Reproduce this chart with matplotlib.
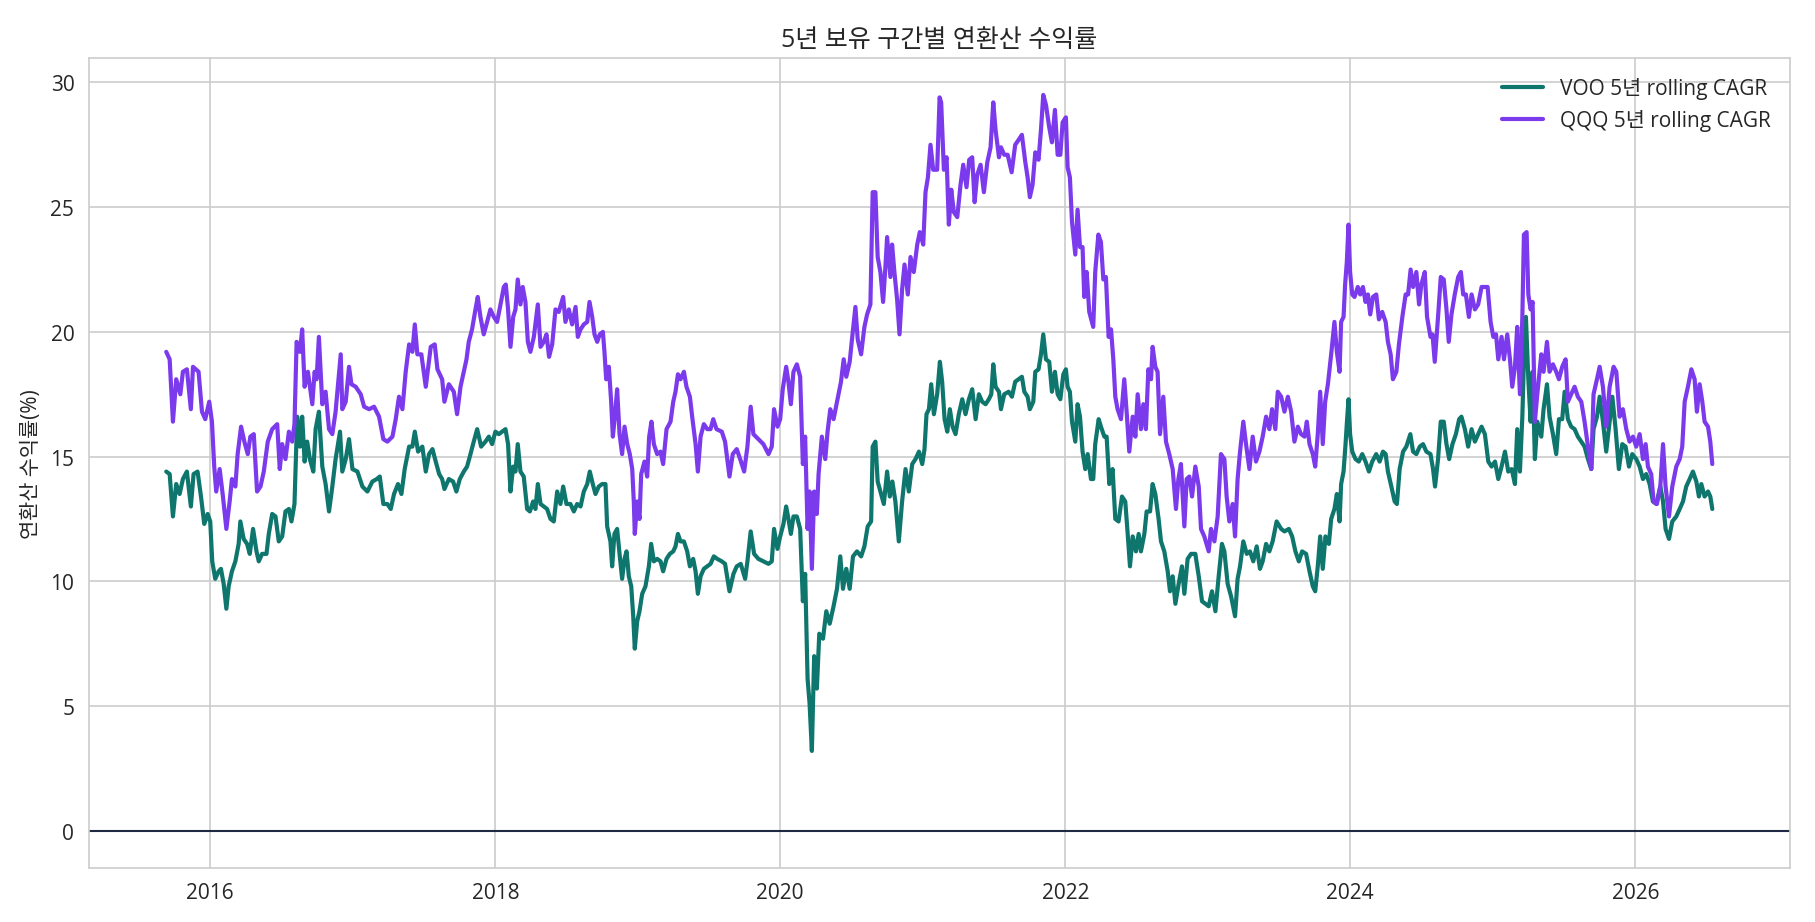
import datetime as dt

import matplotlib
matplotlib.use("Agg")
import matplotlib.pyplot as plt
import matplotlib.dates as mdates
import seaborn as sns

# %% data (decimal year, 5y rolling CAGR in %)
voo_t = [
    2015.691, 2015.715, 2015.738, 2015.761, 2015.785, 2015.808, 2015.836, 2015.864, 2015.883, 2015.911, 2015.935, 2015.958, 2015.982, 2016.000, 2016.014, 2016.035, 2016.059, 2016.075, 2016.094, 2016.113, 2016.129, 2016.152, 2016.176, 2016.199, 2016.211, 2016.234, 2016.258, 2016.277, 2016.300, 2016.324, 2016.340, 2016.363, 2016.394, 2016.410, 2016.434, 2016.457, 2016.480, 2016.504, 2016.527, 2016.551, 2016.569, 2016.590, 2016.609, 2016.628, 2016.644, 2016.661, 2016.679, 2016.698, 2016.722, 2016.738, 2016.761, 2016.785, 2016.808, 2016.832, 2016.855, 2016.878, 2016.909, 2016.925, 2016.949, 2016.972, 2016.996, 2017.031, 2017.066, 2017.101, 2017.136, 2017.167, 2017.188, 2017.213, 2017.241, 2017.265, 2017.288, 2017.316, 2017.340, 2017.363, 2017.394, 2017.417, 2017.434, 2017.457, 2017.487, 2017.511, 2017.534, 2017.558, 2017.581, 2017.605,
    2017.626, 2017.642, 2017.673, 2017.703, 2017.726, 2017.750, 2017.778, 2017.801, 2017.825, 2017.848, 2017.872, 2017.900, 2017.930, 2017.954, 2017.977, 2018.000, 2018.024, 2018.047, 2018.071, 2018.089, 2018.106, 2018.125, 2018.141, 2018.157, 2018.176, 2018.199, 2018.223, 2018.242, 2018.265, 2018.281, 2018.298, 2018.317, 2018.340, 2018.363, 2018.387, 2018.410, 2018.434, 2018.457, 2018.476, 2018.499, 2018.527, 2018.551, 2018.574, 2018.598, 2018.621, 2018.645, 2018.663, 2018.684, 2018.703, 2018.726, 2018.750, 2018.773, 2018.785, 2018.808, 2018.820, 2018.836, 2018.855, 2018.872, 2018.890, 2018.907, 2018.921, 2018.937, 2018.954, 2018.968, 2018.979, 2018.996, 2019.012, 2019.031, 2019.054, 2019.078, 2019.094, 2019.113, 2019.136, 2019.160, 2019.178, 2019.202, 2019.225, 2019.249, 2019.265, 2019.282, 2019.300, 2019.324, 2019.347, 2019.366, 2019.389, 2019.406, 2019.422, 2019.441, 2019.464, 2019.488, 2019.511, 2019.534, 2019.558,
    2019.590, 2019.613, 2019.644, 2019.672, 2019.695, 2019.723, 2019.754, 2019.770, 2019.793, 2019.817, 2019.847, 2019.882, 2019.918, 2019.941, 2019.957, 2019.981, 2020.000, 2020.023, 2020.042, 2020.058, 2020.075, 2020.093, 2020.117, 2020.140, 2020.159, 2020.175, 2020.192, 2020.206, 2020.222, 2020.238, 2020.257, 2020.274, 2020.300, 2020.323, 2020.347, 2020.374, 2020.398, 2020.421, 2020.440, 2020.463, 2020.487, 2020.510, 2020.538, 2020.567, 2020.590, 2020.613, 2020.637, 2020.648, 2020.667, 2020.683, 2020.702, 2020.726, 2020.749, 2020.768, 2020.786, 2020.807, 2020.831, 2020.854, 2020.878, 2020.901, 2020.925, 2020.948, 2020.972, 2020.995, 2021.011, 2021.025, 2021.042, 2021.058, 2021.077, 2021.100, 2021.119, 2021.135, 2021.152, 2021.171, 2021.189, 2021.208, 2021.229, 2021.252, 2021.276, 2021.299, 2021.323, 2021.346, 2021.370, 2021.393, 2021.416, 2021.440, 2021.463, 2021.480, 2021.494, 2021.510, 2021.534,
    2021.548, 2021.571, 2021.602, 2021.625, 2021.648, 2021.672, 2021.695, 2021.712, 2021.735, 2021.751, 2021.775, 2021.789, 2021.812, 2021.829, 2021.845, 2021.864, 2021.887, 2021.906, 2021.927, 2021.946, 2021.965, 2021.986, 2022.004, 2022.016, 2022.032, 2022.047, 2022.070, 2022.086, 2022.103, 2022.121, 2022.140, 2022.157, 2022.180, 2022.196, 2022.210, 2022.234, 2022.250, 2022.274, 2022.290, 2022.309, 2022.332, 2022.351, 2022.374, 2022.398, 2022.421, 2022.438, 2022.454, 2022.473, 2022.496, 2022.515, 2022.531, 2022.555, 2022.571, 2022.595, 2022.613, 2022.632, 2022.655, 2022.672, 2022.695, 2022.719, 2022.735, 2022.754, 2022.773, 2022.796, 2022.819, 2022.836, 2022.859, 2022.883, 2022.913, 2022.937, 2022.960, 2022.983, 2023.007, 2023.030, 2023.054, 2023.077, 2023.100, 2023.117, 2023.140, 2023.164, 2023.192, 2023.210, 2023.227, 2023.250, 2023.274, 2023.297, 2023.320, 2023.344, 2023.367, 2023.386, 2023.410, 2023.433, 2023.456, 2023.484,
    2023.516, 2023.539, 2023.570, 2023.593, 2023.616, 2023.640, 2023.663, 2023.691, 2023.715, 2023.738, 2023.755, 2023.773, 2023.790, 2023.808, 2023.827, 2023.851, 2023.867, 2023.890, 2023.907, 2023.926, 2023.937, 2023.954, 2023.968, 2023.979, 2023.989, 2024.000, 2024.015, 2024.038, 2024.061, 2024.085, 2024.108, 2024.132, 2024.155, 2024.183, 2024.207, 2024.230, 2024.249, 2024.265, 2024.289, 2024.312, 2024.328, 2024.347, 2024.371, 2024.394, 2024.422, 2024.441, 2024.464, 2024.488, 2024.511, 2024.534, 2024.563, 2024.581, 2024.595, 2024.616, 2024.635, 2024.656, 2024.675, 2024.694, 2024.717, 2024.741, 2024.764, 2024.780, 2024.804, 2024.827, 2024.851, 2024.874, 2024.897, 2024.921, 2024.944, 2024.968, 2024.991, 2025.015, 2025.038, 2025.061, 2025.085, 2025.108, 2025.132, 2025.155, 2025.171, 2025.190, 2025.207, 2025.221, 2025.232, 2025.249, 2025.265, 2025.279, 2025.295, 2025.312,
    2025.340, 2025.356, 2025.380, 2025.398, 2025.422, 2025.445, 2025.464, 2025.487, 2025.504, 2025.527, 2025.550, 2025.574, 2025.597, 2025.621, 2025.644, 2025.668, 2025.691, 2025.707, 2025.731, 2025.750, 2025.773, 2025.796, 2025.820, 2025.839, 2025.862, 2025.885, 2025.909, 2025.932, 2025.956, 2025.979, 2026.007, 2026.031, 2026.054, 2026.077, 2026.101, 2026.124, 2026.148, 2026.176, 2026.195, 2026.213, 2026.237, 2026.260, 2026.288, 2026.312, 2026.335, 2026.358, 2026.382, 2026.405, 2026.429, 2026.447, 2026.464, 2026.487, 2026.511, 2026.527, 2026.541,
]
voo_cagr = [
    14.4, 14.3, 12.6, 13.9, 13.5, 14.1, 14.4, 13.0, 14.3, 14.4, 13.4, 12.3, 12.7, 12.4, 10.8, 10.1, 10.4, 10.5, 9.9, 8.9, 9.8, 10.4, 10.8, 11.5, 12.4, 11.7, 11.5, 11.1, 12.1, 11.2, 10.8, 11.1, 11.1, 11.9, 12.7, 12.6, 11.6, 11.8, 12.8, 12.9, 12.4, 13.1, 16.6, 15.4, 16.6, 14.8, 15.6, 14.9, 14.4, 16.1, 16.8, 14.6, 13.9, 12.8, 13.8, 14.9, 16.0, 14.4, 14.9, 15.7, 14.5, 14.4, 13.8, 13.6, 14.0, 14.1, 14.2, 13.1, 13.1, 12.9, 13.5, 13.9, 13.5, 14.5, 15.4, 15.4, 16.0, 15.2, 15.4, 14.4, 15.1, 15.3, 14.8, 14.3,
    14.1, 13.7, 14.1, 14.0, 13.6, 14.1, 14.4, 14.6, 15.1, 15.6, 16.1, 15.4, 15.6, 15.8, 15.5, 16.0, 15.9, 16.0, 16.1, 15.5, 13.6, 14.6, 14.4, 15.5, 14.4, 14.2, 12.9, 12.8, 13.2, 12.9, 13.9, 13.1, 13.0, 12.9, 12.5, 12.4, 13.6, 13.1, 13.8, 13.1, 13.1, 12.8, 13.1, 13.0, 13.6, 13.9, 14.4, 13.9, 13.5, 13.8, 13.9, 13.9, 12.2, 11.6, 10.6, 11.9, 12.1, 11.1, 10.1, 10.9, 11.2, 10.2, 9.8, 8.6, 7.3, 8.4, 8.8, 9.5, 9.8, 10.6, 11.5, 10.8, 10.9, 10.8, 10.4, 10.9, 11.1, 11.2, 11.4, 11.9, 11.6, 11.6, 11.2, 10.6, 10.9, 10.4, 9.5, 10.2, 10.5, 10.6, 10.7, 11.0, 10.9,
    10.8, 10.7, 9.6, 10.3, 10.6, 10.7, 10.1, 10.8, 12.0, 11.1, 10.9, 10.8, 10.7, 10.8, 12.1, 11.3, 11.8, 12.3, 13.0, 12.5, 11.9, 12.6, 12.6, 12.1, 9.2, 10.3, 6.1, 5.1, 3.2, 7.0, 5.7, 7.9, 7.7, 8.8, 8.3, 9.0, 9.7, 11.0, 9.7, 10.5, 9.7, 11.0, 11.2, 11.0, 11.4, 12.2, 12.4, 15.4, 15.6, 14.0, 13.6, 13.1, 14.4, 13.4, 14.0, 13.2, 11.6, 13.2, 14.5, 13.6, 14.7, 14.9, 15.2, 14.7, 15.3, 16.7, 16.9, 17.9, 16.7, 17.5, 18.8, 18.0, 16.5, 16.0, 16.9, 16.2, 15.9, 16.7, 17.3, 16.7, 17.3, 17.7, 16.5, 17.5, 17.2, 17.1, 17.3, 17.5, 18.7, 17.8, 17.6,
    16.9, 17.5, 17.6, 17.4, 18.0, 18.1, 18.2, 17.6, 17.4, 16.9, 17.2, 18.4, 18.5, 19.1, 19.9, 18.9, 18.8, 17.6, 18.4, 17.5, 17.3, 18.3, 18.5, 17.8, 17.6, 16.4, 15.6, 17.1, 16.6, 15.2, 14.5, 15.1, 14.1, 14.1, 15.5, 16.5, 16.2, 15.8, 15.8, 13.9, 14.5, 12.5, 12.4, 13.4, 13.2, 11.9, 10.6, 11.8, 11.2, 11.9, 11.2, 11.9, 12.8, 12.8, 13.9, 13.5, 12.5, 11.6, 11.2, 10.4, 9.6, 10.2, 9.1, 9.9, 10.6, 9.5, 10.9, 11.1, 11.1, 10.2, 9.2, 9.1, 9.0, 9.6, 8.8, 10.2, 11.5, 11.2, 9.9, 9.4, 8.6, 10.1, 10.6, 11.6, 11.1, 11.2, 10.8, 11.4, 10.5, 10.8, 11.5, 11.2, 11.6, 12.4,
    12.1, 12.0, 12.1, 11.8, 11.2, 10.8, 11.2, 11.1, 10.4, 9.8, 9.6, 10.6, 11.8, 10.5, 11.8, 11.5, 12.5, 12.9, 13.5, 12.4, 13.9, 14.4, 15.5, 16.5, 17.3, 15.9, 15.2, 14.9, 14.8, 15.1, 14.8, 14.4, 14.8, 15.1, 14.8, 15.2, 15.1, 14.4, 13.8, 13.2, 13.1, 14.5, 15.2, 15.4, 15.9, 15.2, 15.1, 15.4, 15.5, 15.2, 15.1, 14.5, 13.8, 14.9, 16.4, 16.4, 15.5, 14.9, 15.5, 15.9, 16.5, 16.6, 16.1, 15.4, 16.1, 15.6, 15.9, 16.2, 15.9, 14.8, 14.6, 14.8, 14.1, 14.6, 15.2, 14.4, 14.5, 13.9, 16.1, 14.4, 16.6, 19.5, 20.6, 18.1, 16.4, 18.4, 14.9, 16.4,
    15.8, 16.9, 17.9, 16.6, 15.9, 15.1, 16.5, 16.5, 17.6, 16.5, 16.2, 16.1, 15.8, 15.6, 15.4, 14.9, 14.5, 16.1, 16.6, 17.4, 16.4, 15.2, 16.4, 17.4, 16.1, 14.5, 15.5, 15.4, 14.6, 15.1, 14.9, 14.6, 14.1, 14.3, 13.9, 13.2, 13.1, 13.8, 13.2, 12.1, 11.7, 12.4, 12.6, 12.9, 13.2, 13.8, 14.1, 14.4, 14.0, 13.4, 13.9, 13.4, 13.6, 13.4, 12.9,
]

qqq_t = [
    2015.691, 2015.715, 2015.738, 2015.761, 2015.790, 2015.808, 2015.836, 2015.864, 2015.879, 2015.918, 2015.942, 2015.965, 2015.993, 2016.012, 2016.028, 2016.042, 2016.066, 2016.089, 2016.113, 2016.136, 2016.152, 2016.176, 2016.192, 2016.216, 2016.239, 2016.263, 2016.281, 2016.305, 2016.328, 2016.352, 2016.375, 2016.403, 2016.434, 2016.469, 2016.487, 2016.504, 2016.527, 2016.551, 2016.574, 2016.590, 2016.605, 2016.628, 2016.644, 2016.661, 2016.684, 2016.715, 2016.731, 2016.745, 2016.761, 2016.785, 2016.808, 2016.832, 2016.855, 2016.878, 2016.914, 2016.925, 2016.949, 2016.972, 2016.989, 2017.019, 2017.054, 2017.078, 2017.113, 2017.148, 2017.183, 2017.213, 2017.241, 2017.277, 2017.300, 2017.323, 2017.347, 2017.370, 2017.394, 2017.417, 2017.434, 2017.452, 2017.480, 2017.511, 2017.546, 2017.574, 2017.593,
    2017.626, 2017.642, 2017.673, 2017.708, 2017.731, 2017.755, 2017.778, 2017.797, 2017.813, 2017.836, 2017.860, 2017.876, 2017.895, 2017.918, 2017.942, 2017.965, 2017.989, 2018.012, 2018.036, 2018.059, 2018.073, 2018.089, 2018.106, 2018.125, 2018.141, 2018.157, 2018.176, 2018.192, 2018.211, 2018.228, 2018.246, 2018.270, 2018.298, 2018.317, 2018.340, 2018.359, 2018.377, 2018.399, 2018.422, 2018.445, 2018.476, 2018.492, 2018.516, 2018.539, 2018.563, 2018.579, 2018.598, 2018.621, 2018.645, 2018.661, 2018.680, 2018.696, 2018.715, 2018.733, 2018.755, 2018.766, 2018.778, 2018.797, 2018.813, 2018.825, 2018.839, 2018.855, 2018.872, 2018.890, 2018.907, 2018.926, 2018.944, 2018.961, 2018.972, 2018.979, 2018.996, 2019.012, 2019.024, 2019.047, 2019.066, 2019.080, 2019.096, 2019.113, 2019.136, 2019.160, 2019.178, 2019.202, 2019.230, 2019.249, 2019.265, 2019.282, 2019.300, 2019.324, 2019.342, 2019.366, 2019.382, 2019.406, 2019.422, 2019.441, 2019.464, 2019.488, 2019.511, 2019.530, 2019.553,
    2019.590, 2019.613, 2019.644, 2019.667, 2019.695, 2019.719, 2019.747, 2019.770, 2019.793, 2019.812, 2019.847, 2019.882, 2019.918, 2019.941, 2019.957, 2019.981, 2020.000, 2020.018, 2020.042, 2020.058, 2020.075, 2020.093, 2020.117, 2020.140, 2020.159, 2020.175, 2020.192, 2020.206, 2020.222, 2020.238, 2020.257, 2020.269, 2020.292, 2020.316, 2020.332, 2020.351, 2020.374, 2020.398, 2020.426, 2020.445, 2020.463, 2020.487, 2020.503, 2020.527, 2020.543, 2020.567, 2020.590, 2020.609, 2020.632, 2020.648, 2020.667, 2020.683, 2020.702, 2020.721, 2020.737, 2020.749, 2020.772, 2020.784, 2020.800, 2020.819, 2020.836, 2020.854, 2020.871, 2020.894, 2020.913, 2020.936, 2020.960, 2020.978, 2021.002, 2021.018, 2021.035, 2021.053, 2021.072, 2021.100, 2021.117, 2021.128, 2021.147, 2021.166, 2021.182, 2021.199, 2021.217, 2021.241, 2021.264, 2021.283, 2021.306, 2021.325, 2021.346, 2021.363, 2021.381, 2021.405, 2021.428, 2021.452, 2021.475, 2021.494, 2021.510, 2021.534,
    2021.548, 2021.571, 2021.595, 2021.623, 2021.648, 2021.672, 2021.695, 2021.719, 2021.735, 2021.751, 2021.770, 2021.789, 2021.812, 2021.829, 2021.845, 2021.864, 2021.887, 2021.906, 2021.927, 2021.946, 2021.965, 2021.981, 2022.004, 2022.016, 2022.032, 2022.047, 2022.070, 2022.086, 2022.103, 2022.121, 2022.133, 2022.150, 2022.168, 2022.196, 2022.210, 2022.232, 2022.250, 2022.267, 2022.285, 2022.304, 2022.321, 2022.337, 2022.351, 2022.367, 2022.391, 2022.414, 2022.433, 2022.449, 2022.473, 2022.492, 2022.508, 2022.531, 2022.548, 2022.566, 2022.583, 2022.602, 2022.613, 2022.632, 2022.648, 2022.665, 2022.688, 2022.707, 2022.730, 2022.754, 2022.777, 2022.794, 2022.812, 2022.836, 2022.852, 2022.871, 2022.890, 2022.913, 2022.937, 2022.953, 2022.976, 2023.007, 2023.023, 2023.047, 2023.070, 2023.093, 2023.117, 2023.133, 2023.152, 2023.175, 2023.192, 2023.210, 2023.227, 2023.250, 2023.269, 2023.293, 2023.316, 2023.339, 2023.363, 2023.386, 2023.410, 2023.433, 2023.452, 2023.475, 2023.492,
    2023.516, 2023.539, 2023.563, 2023.586, 2023.609, 2023.633, 2023.656, 2023.680, 2023.696, 2023.715, 2023.738, 2023.755, 2023.773, 2023.790, 2023.808, 2023.825, 2023.844, 2023.867, 2023.890, 2023.907, 2023.926, 2023.937, 2023.954, 2023.965, 2023.977, 2023.989, 2024.000, 2024.015, 2024.031, 2024.054, 2024.071, 2024.090, 2024.108, 2024.125, 2024.141, 2024.160, 2024.183, 2024.202, 2024.225, 2024.249, 2024.265, 2024.284, 2024.300, 2024.324, 2024.342, 2024.366, 2024.389, 2024.406, 2024.424, 2024.441, 2024.464, 2024.483, 2024.499, 2024.523, 2024.539, 2024.563, 2024.577, 2024.593, 2024.616, 2024.635, 2024.656, 2024.675, 2024.691, 2024.710, 2024.733, 2024.757, 2024.776, 2024.792, 2024.811, 2024.832, 2024.851, 2024.874, 2024.897, 2024.921, 2024.944, 2024.963, 2024.984, 2025.003, 2025.022, 2025.038, 2025.061, 2025.078, 2025.101, 2025.120, 2025.136, 2025.155, 2025.171, 2025.190, 2025.207, 2025.218, 2025.237, 2025.249, 2025.265, 2025.279, 2025.295, 2025.312,
    2025.340, 2025.356, 2025.380, 2025.398, 2025.422, 2025.445, 2025.464, 2025.487, 2025.511, 2025.527, 2025.550, 2025.574, 2025.597, 2025.621, 2025.644, 2025.668, 2025.691, 2025.707, 2025.731, 2025.750, 2025.773, 2025.796, 2025.820, 2025.848, 2025.867, 2025.890, 2025.913, 2025.937, 2025.960, 2025.984, 2026.007, 2026.031, 2026.054, 2026.073, 2026.089, 2026.112, 2026.129, 2026.152, 2026.176, 2026.195, 2026.213, 2026.237, 2026.260, 2026.288, 2026.312, 2026.330, 2026.347, 2026.370, 2026.394, 2026.417, 2026.433, 2026.452, 2026.471, 2026.487, 2026.511, 2026.527, 2026.541,
]
qqq_cagr = [
    19.2, 18.9, 16.4, 18.1, 17.5, 18.4, 18.5, 16.9, 18.6, 18.4, 16.8, 16.5, 17.2, 16.4, 14.6, 13.6, 14.5, 13.4, 12.1, 13.2, 14.1, 13.8, 15.1, 16.2, 15.6, 15.1, 15.8, 15.9, 13.6, 13.8, 14.4, 15.6, 16.1, 16.3, 14.5, 15.5, 14.9, 16.0, 15.6, 16.3, 19.6, 19.2, 20.1, 17.8, 18.4, 17.1, 18.4, 18.1, 19.8, 17.1, 17.6, 16.1, 15.9, 16.8, 19.1, 16.9, 17.2, 18.6, 17.9, 17.8, 17.5, 17.0, 16.9, 17.0, 16.6, 15.7, 15.6, 15.8, 16.5, 17.4, 16.9, 18.4, 19.5, 19.2, 20.3, 19.1, 19.1, 17.8, 19.4, 19.5, 18.5,
    18.1, 17.2, 17.9, 17.6, 16.7, 17.8, 18.4, 18.9, 19.6, 20.1, 20.9, 21.4, 20.6, 19.9, 20.4, 20.9, 20.6, 20.4, 21.1, 21.8, 21.9, 20.9, 19.4, 20.6, 20.9, 22.1, 21.1, 21.8, 21.2, 19.6, 19.2, 19.8, 21.1, 19.4, 19.6, 19.9, 19.0, 19.5, 20.9, 20.8, 21.4, 20.4, 20.9, 20.3, 21.0, 19.8, 20.1, 20.3, 20.4, 21.2, 20.6, 19.9, 19.6, 19.9, 20.0, 19.2, 18.1, 18.6, 17.2, 15.8, 16.6, 17.7, 15.9, 15.1, 16.2, 15.5, 15.1, 14.5, 13.2, 11.9, 13.2, 12.5, 14.3, 14.8, 14.2, 15.8, 16.4, 15.5, 15.1, 15.2, 14.7, 16.1, 16.4, 17.2, 17.6, 18.3, 18.1, 18.4, 17.8, 17.4, 16.6, 15.5, 14.4, 15.8, 16.3, 16.1, 16.1, 16.5, 16.1,
    16.0, 15.6, 14.2, 15.1, 15.3, 14.9, 14.4, 15.4, 17.0, 15.9, 15.7, 15.5, 15.1, 15.4, 16.9, 16.2, 16.5, 17.7, 18.6, 18.0, 17.1, 18.4, 18.7, 18.2, 14.7, 15.8, 12.1, 13.6, 10.5, 13.6, 12.7, 14.3, 15.8, 14.9, 16.0, 16.9, 16.5, 17.2, 18.0, 18.9, 18.2, 18.8, 19.7, 21.0, 19.7, 19.1, 20.2, 20.7, 21.1, 25.6, 25.6, 23.0, 22.4, 21.2, 22.6, 23.8, 22.2, 23.5, 22.4, 21.3, 19.9, 21.7, 22.7, 21.5, 23.0, 22.4, 23.5, 24.0, 23.5, 25.6, 26.2, 27.5, 26.5, 26.5, 29.4, 29.2, 26.5, 27.0, 24.3, 25.7, 24.8, 24.6, 25.9, 26.7, 25.8, 26.9, 27.0, 25.2, 26.3, 26.7, 25.6, 26.8, 27.4, 29.2, 28.1, 27.0,
    27.4, 27.1, 27.1, 26.4, 27.5, 27.7, 27.9, 26.8, 26.2, 25.4, 25.9, 27.2, 26.9, 28.1, 29.5, 29.1, 28.2, 27.6, 28.9, 27.1, 27.1, 28.4, 28.6, 26.6, 26.2, 24.4, 23.1, 24.9, 23.4, 23.4, 21.4, 22.4, 20.8, 20.2, 22.4, 23.9, 23.6, 22.1, 22.2, 19.8, 20.1, 18.9, 17.4, 16.9, 16.5, 18.1, 16.6, 15.2, 16.6, 15.8, 17.5, 16.1, 17.1, 16.1, 18.5, 18.1, 19.4, 18.6, 18.4, 15.9, 17.4, 15.6, 15.1, 14.5, 12.9, 14.1, 14.7, 12.2, 14.1, 14.2, 13.4, 14.6, 13.8, 12.1, 11.8, 11.2, 12.1, 11.6, 12.6, 15.1, 14.9, 13.4, 12.4, 13.1, 11.8, 14.1, 15.2, 16.4, 15.5, 14.5, 15.8, 14.8, 15.2, 15.8, 16.6, 16.1, 16.9, 16.1, 17.6,
    17.4, 16.8, 17.4, 16.8, 15.6, 16.2, 15.9, 15.8, 16.4, 15.5, 15.1, 14.6, 15.9, 17.6, 15.5, 17.2, 17.9, 19.1, 20.4, 19.2, 18.4, 20.4, 20.6, 21.9, 22.8, 24.3, 22.4, 21.5, 21.4, 21.8, 21.5, 21.8, 21.2, 21.5, 20.7, 21.4, 21.5, 20.5, 20.8, 20.4, 19.6, 19.1, 18.1, 18.4, 19.5, 20.6, 21.5, 21.5, 22.5, 21.8, 22.4, 21.1, 21.9, 22.4, 20.6, 19.8, 19.9, 18.8, 20.6, 22.2, 22.1, 20.9, 19.6, 20.7, 21.5, 22.2, 22.4, 21.5, 21.5, 20.6, 21.5, 20.9, 21.1, 21.8, 21.8, 21.8, 20.4, 19.8, 19.9, 18.9, 19.8, 18.9, 19.9, 18.9, 17.8, 18.6, 20.2, 17.5, 20.6, 23.9, 24.0, 21.5, 20.9, 21.2, 16.4, 17.5,
    19.1, 18.4, 19.6, 18.4, 18.7, 18.4, 18.1, 18.6, 18.9, 17.2, 17.5, 17.8, 17.4, 17.2, 16.4, 15.4, 14.5, 17.5, 18.1, 18.6, 17.8, 16.2, 17.8, 18.6, 18.4, 16.6, 16.9, 16.1, 15.6, 15.8, 15.4, 15.9, 14.9, 15.5, 14.6, 14.3, 13.2, 13.1, 13.8, 15.5, 13.8, 12.6, 13.8, 14.6, 14.9, 15.4, 17.2, 17.8, 18.5, 18.1, 16.8, 17.9, 17.2, 16.4, 16.2, 15.6, 14.7,
]

labels = ["VOO 5년 rolling CAGR", "QQQ 5년 rolling CAGR"]
colors = ["#0f766e", "#7c3aed"]

assert len(voo_t) == len(voo_cagr), (len(voo_t), len(voo_cagr))
assert len(qqq_t) == len(qqq_cagr), (len(qqq_t), len(qqq_cagr))


def to_date(y):
    yr = int(y)
    start = dt.datetime(yr, 1, 1)
    return start + (dt.datetime(yr + 1, 1, 1) - start) * (y - yr)


# %% style
sns.set_style("whitegrid")
plt.rcParams["font.family"] = ["Open Sans", "Noto Sans CJK KR", "DejaVu Sans"]
plt.rcParams["axes.unicode_minus"] = False

# %% plot
fig, ax = plt.subplots(figsize=(12.1, 6.153), dpi=150)

ax.plot([to_date(t) for t in voo_t], voo_cagr, color=colors[0], lw=2.0, label=labels[0])
ax.plot([to_date(t) for t in qqq_t], qqq_cagr, color=colors[1], lw=2.0, label=labels[1])
ax.axhline(0, color="#1e2a44", lw=1)

ax.xaxis.set_major_locator(mdates.YearLocator(2))
ax.xaxis.set_major_formatter(mdates.DateFormatter("%Y"))

ax.set_title("5년 보유 구간별 연환산 수익률", fontsize=12)
ax.set_ylabel("연환산 수익률(%)")
ax.legend(loc="upper right", frameon=False)

fig.subplots_adjust(left=0.049, right=0.986, top=0.936, bottom=0.059)
fig.savefig("out.png")
